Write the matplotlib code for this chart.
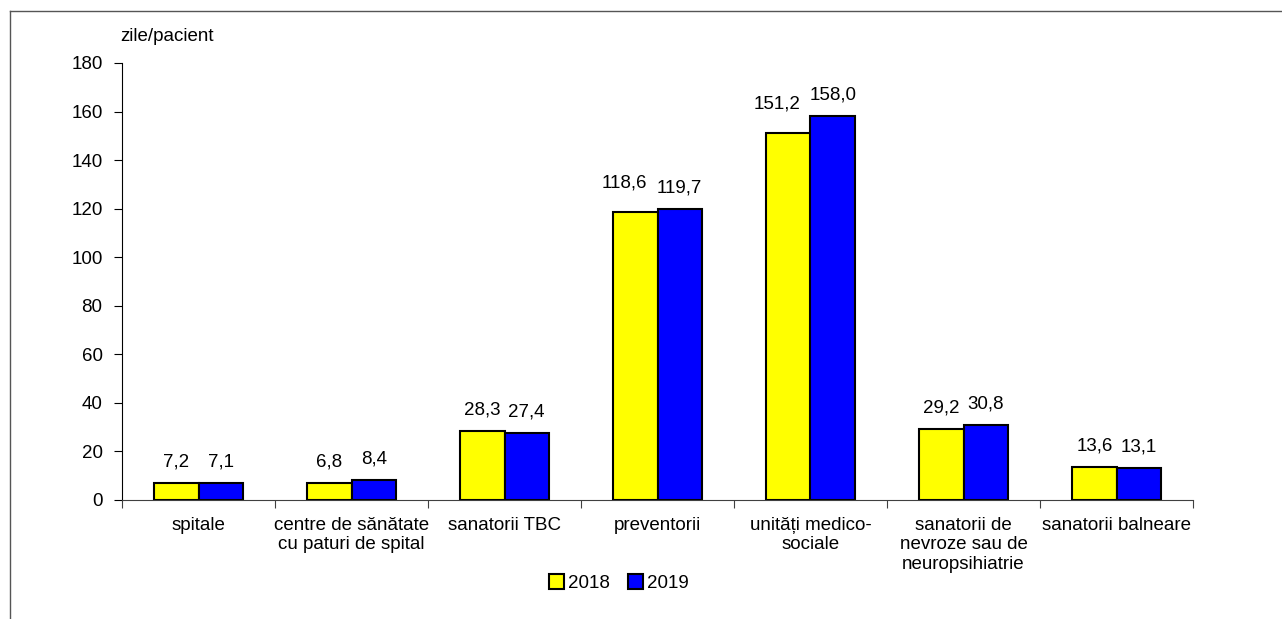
import matplotlib.pyplot as plt
from matplotlib.lines import Line2D
import numpy as np

plt.rcParams['font.family'] = ['Liberation Sans', 'DejaVu Sans']

categories = ['spitale', 'centre de sănătate\ncu paturi de spital', 'sanatorii TBC',
              'preventorii', 'unități medico-\nsociale', 'sanatorii de\nnevroze sau de\nneuropsihiatrie',
              'sanatorii balneare']
v2018 = [7.2, 6.8, 28.3, 118.6, 151.2, 29.2, 13.6]
v2019 = [7.1, 8.4, 27.4, 119.7, 158.0, 30.8, 13.1]
years = ['2018', '2019']

fs = 13.5
fig = plt.figure(figsize=(12.82, 6.19), dpi=100)
ax = fig.add_axes([122/1282, 1 - 500/619, (1193-122)/1282, (500-63)/619])

x = np.arange(len(categories))
w = 0.29
b1 = ax.bar(x - w/2, v2018, w, color='#ffff00', edgecolor='black', linewidth=1.5, label=years[0])
b2 = ax.bar(x + w/2, v2019, w, color='#0000ff', edgecolor='black', linewidth=1.5, label=years[1])

for i, (bars, vals) in enumerate(((b1, v2018), (b2, v2019))):
    for r, v in zip(bars, vals):
        txt = f'{v:.1f}'.replace('.', ',')
        # wide labels on the left bar get nudged up-left so they don't collide
        off = (-8, 15) if (i == 0 and len(txt) > 4) else (0, 9)
        ax.annotate(txt, (r.get_x() + r.get_width()/2, v),
                    xytext=off, textcoords='offset points', ha='center', va='bottom', fontsize=fs)

ax.set_xlim(-0.5, len(categories) - 0.5)
ax.set_ylim(0, 180)
ax.set_yticks(range(0, 181, 20))
ax.set_xticks(np.arange(-0.5, len(categories), 1))
ax.set_xticklabels([])
ax.set_xticks(x, minor=True)
ax.set_xticklabels(categories, minor=True, fontsize=fs)
ax.tick_params(axis='x', which='minor', length=0, pad=12)
ax.tick_params(axis='x', which='major', length=6, direction='out', color='#404040')
ax.tick_params(axis='y', length=6, direction='out', labelsize=fs, pad=8)
ax.spines['top'].set_visible(False)
ax.spines['right'].set_visible(False)
ax.spines['bottom'].set_color('#404040')
ax.text(-0.002, 1.06, 'zile/pacient', transform=ax.transAxes, ha='left', va='center', fontsize=fs)

ax.legend(loc='center', bbox_to_anchor=(0.464, -0.19), ncol=2, frameon=False, fontsize=fs,
          handlelength=0.8, handleheight=0.8, handletextpad=0.2, columnspacing=1.0)

fig.add_artist(Line2D([10/1282, 10/1282], [0, 1 - 11/619], transform=fig.transFigure, color='#555555', lw=1))
fig.add_artist(Line2D([10/1282, 1], [1 - 11/619, 1 - 11/619], transform=fig.transFigure, color='#555555', lw=1))

fig.savefig('out.png', dpi=100)
